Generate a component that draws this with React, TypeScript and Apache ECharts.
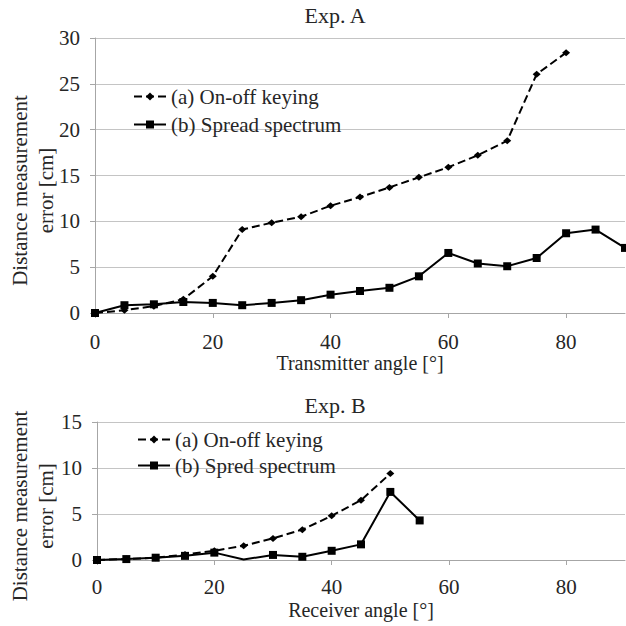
import React, { useEffect, useRef } from "react";
import * as echarts from "echarts";

// ---- data ----
const anglesTop = [0, 5, 10, 15, 20, 25, 30, 35, 40, 45, 50, 55, 60, 65, 70, 75, 80, 85, 90];
const onOffTop = [0, 0.3, 0.75, 1.5, 4.0, 9.1, 9.85, 10.5, 11.7, 12.65, 13.7, 14.8, 15.9, 17.2, 18.8, 26.05, 28.4];
const spreadTop = [0, 0.85, 0.95, 1.2, 1.1, 0.85, 1.1, 1.4, 2.0, 2.4, 2.75, 4.0, 6.55, 5.4, 5.1, 6.0, 8.7, 9.1, 7.1];

const anglesBottom = [0, 5, 10, 15, 20, 25, 30, 35, 40, 45, 50, 55];
const onOffBottom = [0, 0.1, 0.25, 0.6, 1.0, 1.55, 2.35, 3.3, 4.8, 6.5, 9.4];
const spreadBottom = [0, 0.1, 0.25, 0.45, 0.8, 0.05, 0.55, 0.35, 1.0, 1.7, 7.4, 4.3];
const spreadBottomNoMarker = [25];

const xTicks = [0, 20, 40, 60, 80];

const nameA = "(a) On-off keying";
const nameBTop = "(b) Spread spectrum";
const nameBBottom = "(b) Spred spectrum";

const FONT = "'Liberation Serif', 'Times New Roman', 'DejaVu Serif', serif";
const TEXT = "#262626";

function pairs(xs: number[], ys: number[]) {
  return ys.map((y, i) => [xs[i], y]);
}

export default function App() {
  const ref = useRef<HTMLDivElement>(null);
  useEffect(() => {
    if (!ref.current) return;
    const chart = echarts.init(ref.current, undefined, { renderer: "svg" });

    const xAxisBase = (gridIndex: number, name: string, margin: number) => ({
      type: "value" as const,
      gridIndex,
      min: 0,
      max: 90,
      interval: 20,
      name,
      nameLocation: "middle" as const,
      nameGap: 40,
      nameMoveOverlap: false,
      nameTextStyle: { fontFamily: FONT, fontSize: 20, color: TEXT },
      axisLine: { show: true, lineStyle: { color: "#a6a6a6", width: 1 } },
      axisTick: { show: true, length: 5, lineStyle: { color: "#a6a6a6" } },
      axisLabel: {
        fontFamily: FONT,
        fontSize: 21,
        color: TEXT,
        margin,
        showMaxLabel: false,
        formatter: (v: number) => (xTicks.includes(v) ? String(v) : ""),
      },
      splitLine: { show: false },
    });

    const yAxisBase = (gridIndex: number, max: number, gap: number) => ({
      type: "value" as const,
      gridIndex,
      min: 0,
      max,
      interval: 5,
      name: "Distance measurement\nerror [cm]",
      nameLocation: "middle" as const,
      nameRotate: 90,
      nameGap: gap,
      nameMoveOverlap: false,
      nameTextStyle: {
        fontFamily: FONT,
        fontSize: 21,
        color: TEXT,
        lineHeight: 26,
        padding: [0, 30, 0, 0],
      },
      axisLine: { show: true, lineStyle: { color: "#a6a6a6", width: 1 } },
      axisTick: { show: true, length: 5, lineStyle: { color: "#a6a6a6" } },
      axisLabel: { fontFamily: FONT, fontSize: 21, color: TEXT, margin: 15 },
      splitLine: { show: true, lineStyle: { color: "#c4c4c4", width: 1 } },
    });

    const dashedStyle = { color: "#000", width: 2, type: [8, 4] as number[] };
    const solidStyle = { color: "#000", width: 2, type: "solid" as const };

    const legendBase = {
      orient: "vertical" as const,
      itemWidth: 32,
      itemHeight: 10,
      itemGap: 7,
      padding: 0,
      textStyle: { fontFamily: FONT, fontSize: 21, color: TEXT, lineHeight: 20 },
      selectedMode: false as const,
    };

    const option = {
      animation: false,
      backgroundColor: "#fff",
      textStyle: { fontFamily: FONT },
      title: [
        {
          text: "Exp. A",
          left: 335,
          top: 4,
          textAlign: "center",
          padding: 0,
          textStyle: { fontFamily: FONT, fontSize: 22, fontWeight: "normal", color: TEXT },
        },
        {
          text: "Exp. B",
          left: 335,
          top: 394,
          textAlign: "center",
          padding: 0,
          textStyle: { fontFamily: FONT, fontSize: 22, fontWeight: "normal", color: TEXT },
        },
      ],
      legend: [
        { ...legendBase, left: 133, top: 86, data: [nameA, nameBTop] },
        { ...legendBase, left: 137, top: 429, itemGap: 5, data: [nameA, nameBBottom] },
      ],
      grid: [
        { left: 95, top: 38, width: 530, height: 275, outerBoundsMode: "none", containLabel: false },
        { left: 97, top: 422, width: 528, height: 138, outerBoundsMode: "none", containLabel: false },
      ],
      xAxis: [xAxisBase(0, "Transmitter angle [°]", 18), xAxisBase(1, "Receiver angle [°]", 16)],
      yAxis: [yAxisBase(0, 30, 36), yAxisBase(1, 15, 38)],
      series: [
        {
          name: nameA,
          type: "line",
          xAxisIndex: 0,
          yAxisIndex: 0,
          data: pairs(anglesTop, onOffTop),
          symbol: "diamond",
          symbolSize: [8, 7],
          lineStyle: dashedStyle,
          itemStyle: { color: "#000" },
          z: 3,
        },
        {
          name: nameBTop,
          type: "line",
          xAxisIndex: 0,
          yAxisIndex: 0,
          data: pairs(anglesTop, spreadTop),
          symbol: "rect",
          symbolSize: 8,
          lineStyle: solidStyle,
          itemStyle: { color: "#000" },
          clip: false,
          z: 2,
        },
        {
          name: nameA,
          type: "line",
          xAxisIndex: 1,
          yAxisIndex: 1,
          data: pairs(anglesBottom, onOffBottom),
          symbol: "diamond",
          symbolSize: [8, 7],
          lineStyle: dashedStyle,
          itemStyle: { color: "#000" },
          z: 3,
        },
        {
          name: nameBBottom,
          type: "line",
          xAxisIndex: 1,
          yAxisIndex: 1,
          data: pairs(anglesBottom, spreadBottom).map((p) =>
            spreadBottomNoMarker.includes(p[0]) ? { value: p, symbol: "none" } : p
          ),
          symbol: "rect",
          symbolSize: 8,
          lineStyle: solidStyle,
          itemStyle: { color: "#000" },
          z: 2,
        },
      ],
    };

    chart.setOption(option as any);
    return () => chart.dispose();
  }, []);

  return (
    <div
      ref={ref}
      style={{ position: "fixed", left: 0, top: 0, width: 626, height: 626, background: "#fff" }}
    />
  );
}
